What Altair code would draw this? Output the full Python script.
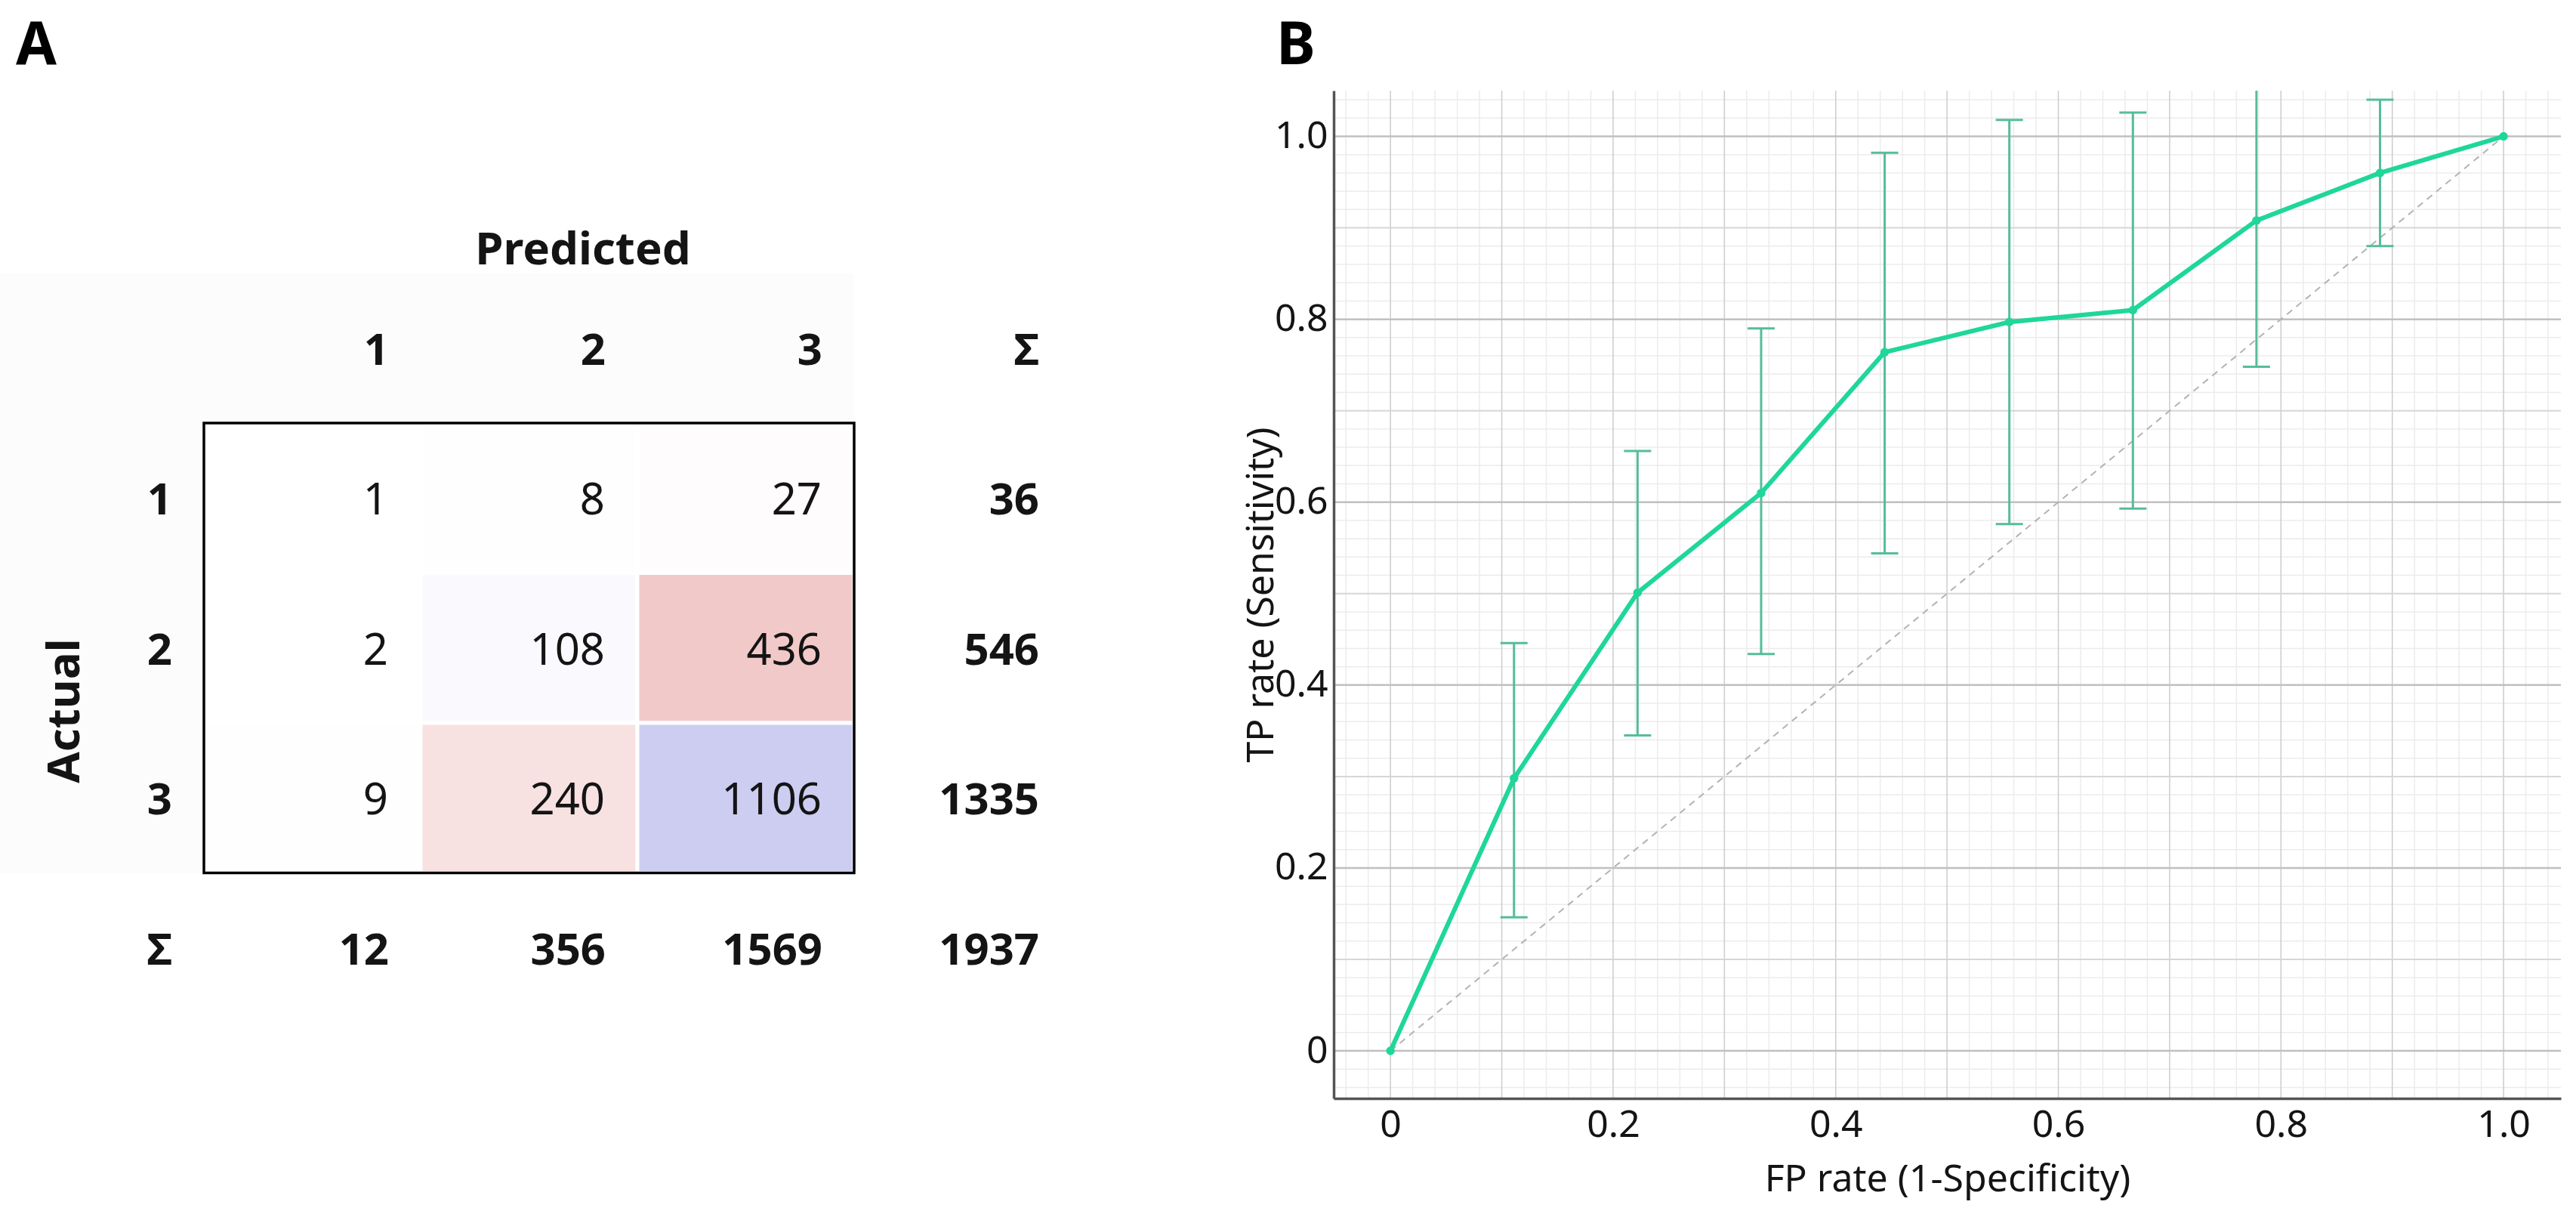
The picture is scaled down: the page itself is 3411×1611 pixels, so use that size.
import altair as alt
import pandas as pd

FONT = "Noto Sans"
INK = "#141414"

# ---------------- Panel A: confusion matrix ----------------
classes = ["1", "2", "3"]
counts = [
    [1, 8, 27],
    [2, 108, 436],
    [9, 240, 1106],
]
row_totals = [36, 546, 1335]
col_totals = [12, 356, 1569]
grand_total = 1937

# ---------------- Panel B: ROC curve with 95% CI ----------------
fp_rate = [0.0, 0.111, 0.222, 0.333, 0.444, 0.556, 0.667, 0.778, 0.889, 1.0]
tp_rate = [0.0, 0.298, 0.501, 0.610, 0.764, 0.797, 0.810, 0.908, 0.960, 1.0]
ci_low = [None, 0.146, 0.345, 0.434, 0.544, 0.576, 0.593, 0.748, 0.880, None]
ci_high = [None, 0.446, 0.656, 0.790, 0.982, 1.018, 1.026, 1.068, 1.040, None]
chance_x = [0.0, 1.0]
chance_y = [0.0, 1.0]

axis_ticks = [0.0, 0.2, 0.4, 0.6, 0.8, 1.0]
tenths = [round(i * 0.1, 2) for i in range(11)]
fine_steps = [round(i * 0.02, 2) for i in range(-2, 53) if i % 5 != 0]

# ---------------- layout ----------------
A_W, A_H = 1450, 1334
LABEL_COL_W = 270
CELL_W, CELL_H = 287, 198.5
MATRIX_TOP = 440
B_W, B_H = 1625, 1334
GAP = 316
TAG_SIZE = 78
TAG_BASE = -35

LINE_GREEN = "#1fd69b"
BAR_GREEN = "#55bd99"

# ---------- matrix tables ----------
diag_max = max(counts[i][i] for i in range(3))
off_max = max(counts[i][j] for i in range(3) for j in range(3) if i != j)

cells, values, bold = [], [], []
for i in range(3):
    for j in range(3):
        v = counts[i][j]
        shade = v / diag_max if i == j else -v / off_max
        cells.append({"c0": j, "c1": j + 1, "r0": i, "r1": i + 1, "shade": shade})
        values.append({"cx": j + 1, "ry": i + 0.5, "label": str(v)})
for j, name in enumerate(classes):
    bold.append({"cx": j + 1, "ry": -0.5, "label": name})
    bold.append({"cx": 0, "ry": j + 0.5, "label": name})
    bold.append({"cx": 4, "ry": j + 0.5, "label": str(row_totals[j])})
    bold.append({"cx": j + 1, "ry": 3.5, "label": str(col_totals[j])})
bold.append({"cx": 4, "ry": -0.5, "label": "Σ"})
bold.append({"cx": 0, "ry": 3.5, "label": "Σ"})
bold.append({"cx": 4, "ry": 3.5, "label": str(grand_total)})

tints = [{"c0": j, "c1": j + 1, "r0": -1, "r1": 0} for j in range(3)]
tints += [{"c0": -1, "c1": 0, "r0": r, "r1": r + 1} for r in range(-1, 3)]

cells_df = pd.DataFrame(cells)
values_df = pd.DataFrame(values)
bold_df = pd.DataFrame(bold)
tints_df = pd.DataFrame(tints)
box_df = pd.DataFrame([{"c0": 0, "c1": 3, "r0": 0, "r1": 3}])

xA = alt.Scale(domain=[-LABEL_COL_W / CELL_W, (A_W - LABEL_COL_W) / CELL_W], nice=False, zero=False)
yA = alt.Scale(domain=[-MATRIX_TOP / CELL_H, (A_H - MATRIX_TOP) / CELL_H],
               nice=False, zero=False, reverse=True)


def xa(f):
    return alt.X(f, type="quantitative", scale=xA, axis=None)


def ya(f):
    return alt.Y(f, type="quantitative", scale=yA, axis=None)


tint_layer = alt.Chart(tints_df).mark_rect(color="#fcfcfd", clip=True).encode(
    x=xa("c0"), x2="c1", y=ya("r0"), y2="r1")

cell_layer = alt.Chart(cells_df).mark_rect(stroke="white", strokeWidth=5).encode(
    x=xa("c0"), x2="c1", y=ya("r0"), y2="r1",
    color=alt.Color("shade:Q", legend=None,
                    scale=alt.Scale(domain=[-1, 0, 1],
                                    range=["#f2c9c9", "#ffffff", "#cdcdf2"],
                                    interpolate="rgb")))

box_layer = alt.Chart(box_df).mark_rect(fillOpacity=0, stroke="black", strokeWidth=3.5).encode(
    x=xa("c0"), x2="c1", y=ya("r0"), y2="r1")

value_text = alt.Chart(values_df).mark_text(
    align="right", baseline="middle", dx=-43, dy=5, fontSize=58, font=FONT, color=INK
).encode(x=xa("cx"), y=ya("ry"), text="label:N")

bold_text = alt.Chart(bold_df).mark_text(
    align="right", baseline="middle", dx=-42, dy=5, fontSize=58, font=FONT,
    fontWeight="bold", color=INK
).encode(x=xa("cx"), y=ya("ry"), text="label:N")

predicted = alt.Chart(pd.DataFrame({"t": ["Predicted"]})).mark_text(
    align="center", baseline="middle", fontSize=60, font=FONT, fontWeight="bold", color=INK
).encode(x=alt.value(772), y=alt.value(212), text="t:N")

actual = alt.Chart(pd.DataFrame({"t": ["Actual"]})).mark_text(
    align="center", baseline="middle", angle=270, fontSize=60, font=FONT,
    fontWeight="bold", color=INK
).encode(x=alt.value(87), y=alt.value(821), text="t:N")

tag_a = alt.Chart(pd.DataFrame({"t": ["A"]})).mark_text(
    align="left", baseline="alphabetic", fontSize=TAG_SIZE, font=FONT, fontWeight="bold",
    color="black"
).encode(x=alt.value(21), y=alt.value(TAG_BASE), text="t:N")

panel_a = alt.layer(
    tint_layer, cell_layer, box_layer, value_text, bold_text, predicted, actual, tag_a
).properties(width=A_W, height=A_H)

# ---------- ROC panel ----------
roc_df = pd.DataFrame({"fpr": fp_rate, "tpr": tp_rate, "lo": ci_low, "hi": ci_high})
ci_df = roc_df.dropna()
chance_df = pd.DataFrame({"fpr": chance_x, "tpr": chance_y})
tenth_df = pd.DataFrame({"v": tenths})
major_df = pd.DataFrame({"v": [t for k, t in enumerate(tenths) if k % 2 == 0]})
mid_df = pd.DataFrame({"v": [t for k, t in enumerate(tenths) if k % 2 == 1]})
fine_df = pd.DataFrame({"v": fine_steps})

xB = alt.Scale(domain=[-0.051, 1.0515], nice=False, zero=False)
yB = alt.Scale(domain=[-0.052, 1.05], nice=False, zero=False)
label_expr = "datum.value == 0 ? '0' : format(datum.value, '.1f')"

axis_common = dict(
    values=axis_ticks, labelExpr=label_expr, grid=False, ticks=False,
    domainColor="#555555", domainWidth=3.5, labelFont=FONT, labelFontSize=50,
    labelColor=INK, titleFont=FONT, titleFontSize=50, titleFontWeight="normal",
    titleColor=INK, labelFlush=False, zindex=1,
)
x_axis = alt.Axis(title="FP rate (1-Specificity)", labelPadding=10, titlePadding=22, **axis_common)
y_axis = alt.Axis(title="TP rate (Sensitivity)", labelPadding=8, titlePadding=-8, **axis_common)


def xb(f):
    return alt.X(f, type="quantitative", scale=xB, axis=x_axis)


def yb(f):
    return alt.Y(f, type="quantitative", scale=yB, axis=y_axis)


fine_v = alt.Chart(fine_df).mark_rule(color="#ececec", strokeWidth=1.5).encode(x=xb("v"))
fine_h = alt.Chart(fine_df).mark_rule(color="#ececec", strokeWidth=1.5).encode(y=yb("v"))
tenth_v = alt.Chart(tenth_df).mark_rule(color="#cccccc", strokeWidth=1.5).encode(x=xb("v"))
mid_h = alt.Chart(mid_df).mark_rule(color="#d6d6d6", strokeWidth=2).encode(y=yb("v"))
major_h = alt.Chart(major_df).mark_rule(color="#c0c0c0", strokeWidth=2.5).encode(y=yb("v"))

chance = alt.Chart(chance_df).mark_line(
    color="#b3b3b3", strokeWidth=2, strokeDash=[9, 7]
).encode(x=xb("fpr"), y=yb("tpr"))

bars = alt.Chart(ci_df).mark_rule(color=BAR_GREEN, strokeWidth=3, clip=True).encode(
    x=xb("fpr"), y=yb("lo"), y2="hi")
caps_lo = alt.Chart(ci_df).mark_tick(
    orient="horizontal", size=36, thickness=3, color=BAR_GREEN, opacity=1, clip=True
).encode(x=xb("fpr"), y=yb("lo"))
caps_hi = alt.Chart(ci_df).mark_tick(
    orient="horizontal", size=36, thickness=3, color=BAR_GREEN, opacity=1, clip=True
).encode(x=xb("fpr"), y=yb("hi"))

curve = alt.Chart(roc_df).mark_line(color=LINE_GREEN, strokeWidth=6).encode(
    x=xb("fpr"), y=yb("tpr"))
dots = alt.Chart(roc_df).mark_point(
    filled=True, size=130, color=LINE_GREEN, opacity=1
).encode(x=xb("fpr"), y=yb("tpr"))

tag_b = alt.Chart(pd.DataFrame({"t": ["B"]})).mark_text(
    align="left", baseline="alphabetic", fontSize=TAG_SIZE, font=FONT, fontWeight="bold",
    color="black"
).encode(x=alt.value(-76), y=alt.value(TAG_BASE), text="t:N")

panel_b = alt.layer(
    fine_v, fine_h, tenth_v, mid_h, major_h, chance, bars, caps_lo, caps_hi, curve, dots, tag_b
).properties(width=B_W, height=B_H)

chart = alt.hconcat(panel_a, panel_b, spacing=GAP, bounds="flush").properties(
    padding={"left": 0, "top": 23, "right": 0, "bottom": 20}
).configure(font=FONT, background="white").configure_view(stroke=None)

chart.save("out.html", embed_options={"renderer": "svg", "actions": False})
